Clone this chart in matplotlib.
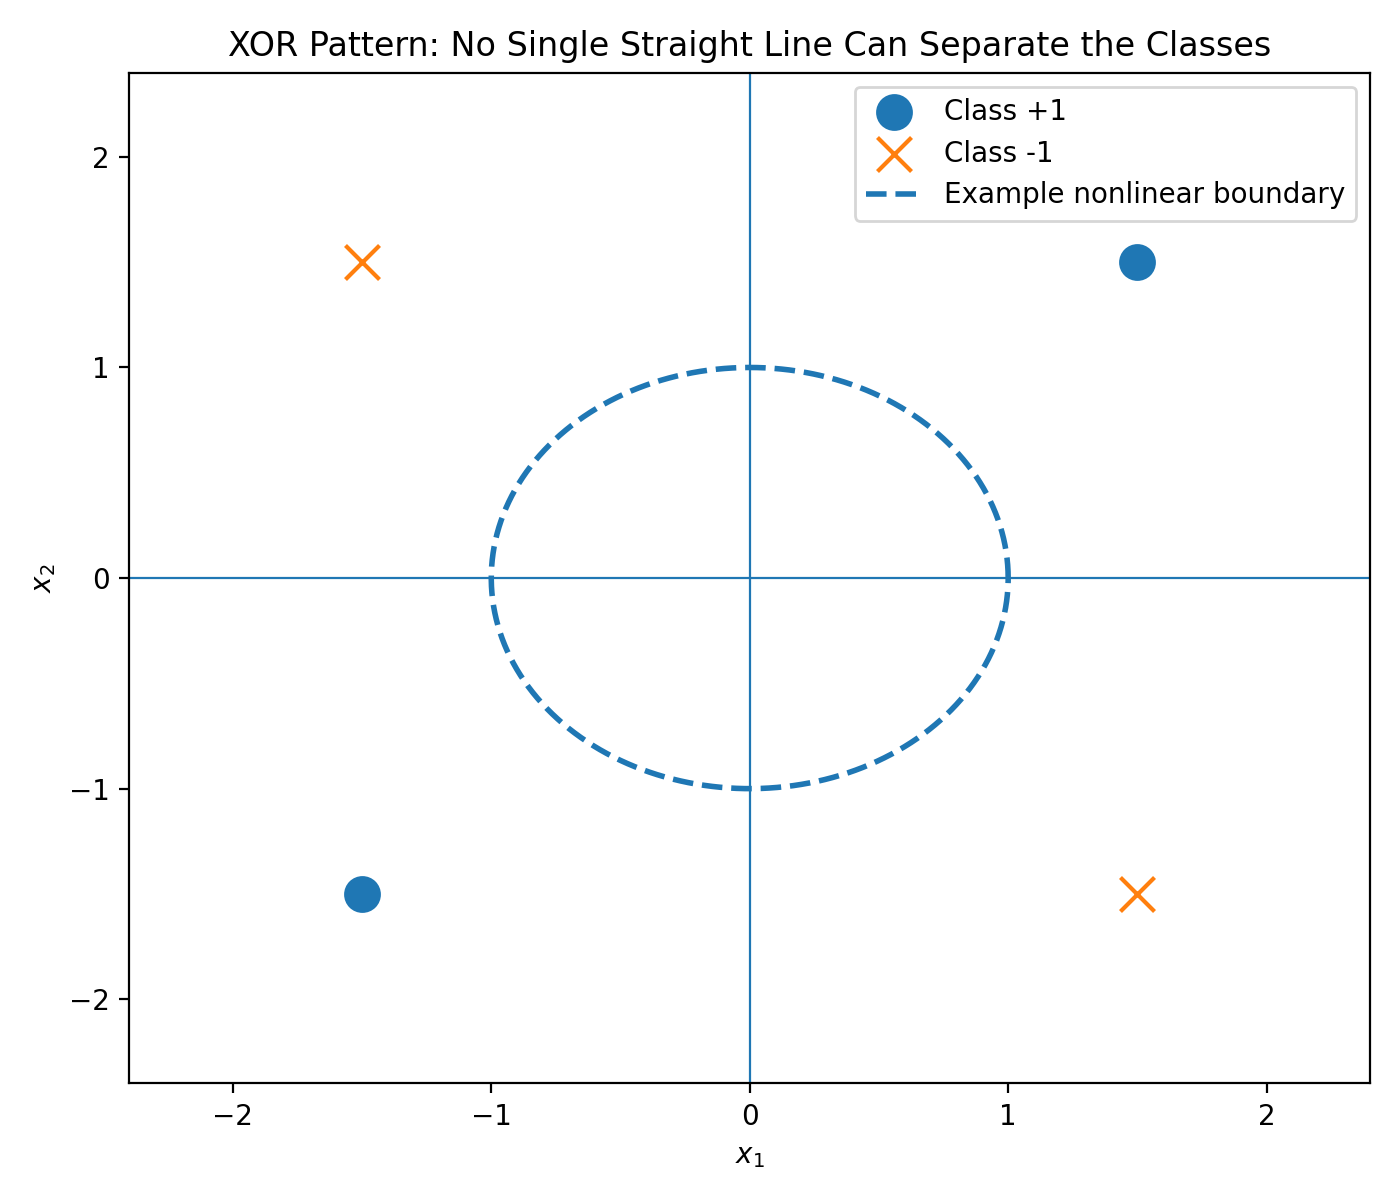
"""XOR pattern: four points, two classes, and a circle as an example nonlinear boundary."""
import numpy as np
import matplotlib
matplotlib.use("Agg")
import matplotlib.pyplot as plt

# class +1 points
pos_x1 = [1.5, -1.5]
pos_x2 = [1.5, -1.5]
# class -1 points
neg_x1 = [-1.5, 1.5]
neg_x2 = [1.5, -1.5]

BOUNDARY_RADIUS = 1.0
AXIS_LIMIT = 2.4

fig, ax = plt.subplots(figsize=(7, 6), dpi=200)

ax.axhline(0, color="#1f77b4", linewidth=0.8)
ax.axvline(0, color="#1f77b4", linewidth=0.8)

ax.scatter(pos_x1, pos_x2, s=150, marker="o", color="#1f77b4", label="Class +1")
ax.scatter(neg_x1, neg_x2, s=150, marker="x", color="#ff7f0e", linewidths=1.5,
           label="Class -1")

theta = np.linspace(0, 2 * np.pi, 400)
ax.plot(BOUNDARY_RADIUS * np.cos(theta), BOUNDARY_RADIUS * np.sin(theta),
        linestyle="--", color="#1f77b4", linewidth=2,
        label="Example nonlinear boundary")

ax.set_xlim(-AXIS_LIMIT, AXIS_LIMIT)
ax.set_ylim(-AXIS_LIMIT, AXIS_LIMIT)
ax.set_xlabel("$x_1$")
ax.set_ylabel("$x_2$")
ax.set_title("XOR Pattern: No Single Straight Line Can Separate the Classes")
ax.legend(loc="upper right")

fig.tight_layout()
fig.savefig("out.png", dpi=200)
